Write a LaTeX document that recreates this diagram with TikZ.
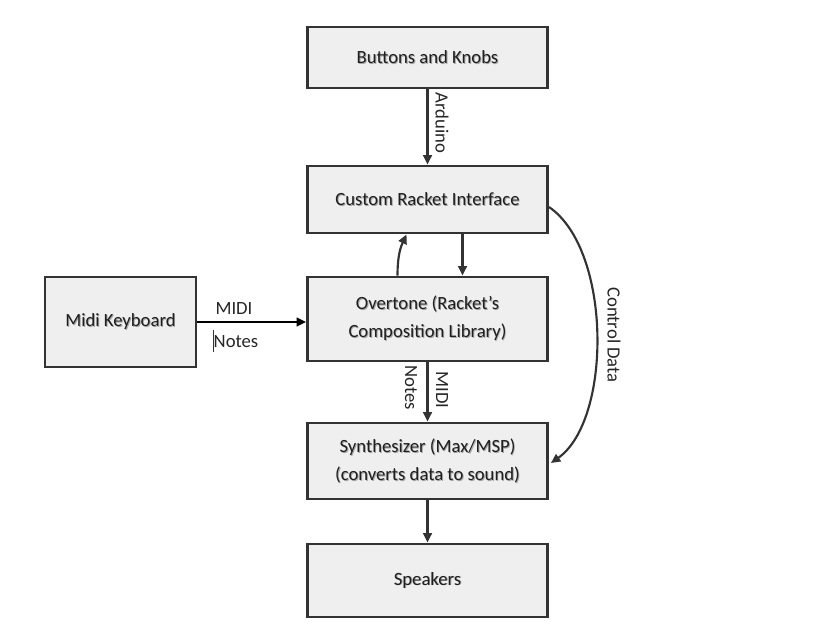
\documentclass[tikz,border=0pt]{standalone}
\usepackage{fontspec}
\setmainfont{Carlito}
\usetikzlibrary{calc,arrows.meta}
\definecolor{boxfill}{HTML}{EFEFEF}
\definecolor{boxline}{HTML}{333333}
\newcommand\shd[1]{\leavevmode\rlap{\kern0.7pt\raisebox{-0.7pt}{\textcolor{black!35}{#1}}}#1}
\tikzset{
  blk/.style={draw=boxline, fill=boxfill, line width=2.2pt, minimum width=240*0.75pt, align=center, inner sep=0pt, font=\fontsize{14}{21}\selectfont, text=black!88},
  conn/.style={draw=boxline, line width=1.6pt, -{Triangle[length=7pt,width=6.5pt]}},
  lbl/.style={font=\fontsize{14}{16}\selectfont, text=black!85, inner sep=0pt}
}
\begin{document}
\begin{tikzpicture}[x=0.75pt,y=-0.75pt]
\useasboundingbox (0,0) rectangle (827,642);
\fill[white] (0,0) rectangle (827,642);
\node[blk, minimum height=61*0.75pt] (bk) at (427.5,57.5) {\shd{Buttons and Knobs}};
\node[blk, minimum height=67*0.75pt] (cu) at (427.5,199.5) {\shd{Custom Racket Interface}};
\node[blk, minimum height=84*0.75pt] (ov) at (427.5,319) {\shd{Overtone (Racket’s}\\\shd{Composition Library)}};
\node[blk, minimum height=76*0.75pt] (sy) at (427.5,461) {\shd{Synthesizer (Max/MSP)}\\\shd{(converts data to sound)}};
\node[blk, minimum height=73*0.75pt] (sp) at (427.5,580.5) {\shd{Speakers}};
\node[blk, minimum width=151*0.75pt, minimum height=90*0.75pt] (mk) at (120.5,322) {\shd{Midi Keyboard}};

\draw[conn] (bk.south) -- (cu.north);
\draw[conn] ($(ov.north)+(-30,0)$) to[out=90,in=-115] ($(cu.south)+(-21,0)$);
\draw[conn] ($(cu.south)+(35,0)$) -- ($(ov.north)+(35,0)$);
\draw[conn] ($(cu.east)+(0,7.5)$) .. controls (612,250) and (612,420) .. ($(sy.east)+(2,2)$);
\draw[conn] (ov.south) -- (sy.north);
\draw[conn] (sy.south) -- (sp.north);
\draw[conn, draw=black, line width=1.3pt] (mk.east) -- (mk.east -| ov.west);

\node[lbl, rotate=-90] (la) at (442,123) {Arduino};
\node[lbl, rotate=-90] (ln) at (411,388) {Notes};
\node[lbl, rotate=-90] (lm) at (442,390) {MIDI};
\node[lbl, rotate=-90] (lc) at (614,335) {Control Data};
\node[lbl] (lm2) at (234,309) {MIDI};
\node[lbl] (ln2) at (236,342) {Notes};
\coordinate (c1) at (213,330);
\coordinate (c2) at (213,352);
\draw[black!80, line width=0.5pt] (c1) -- (c2);
\end{tikzpicture}
\end{document}
